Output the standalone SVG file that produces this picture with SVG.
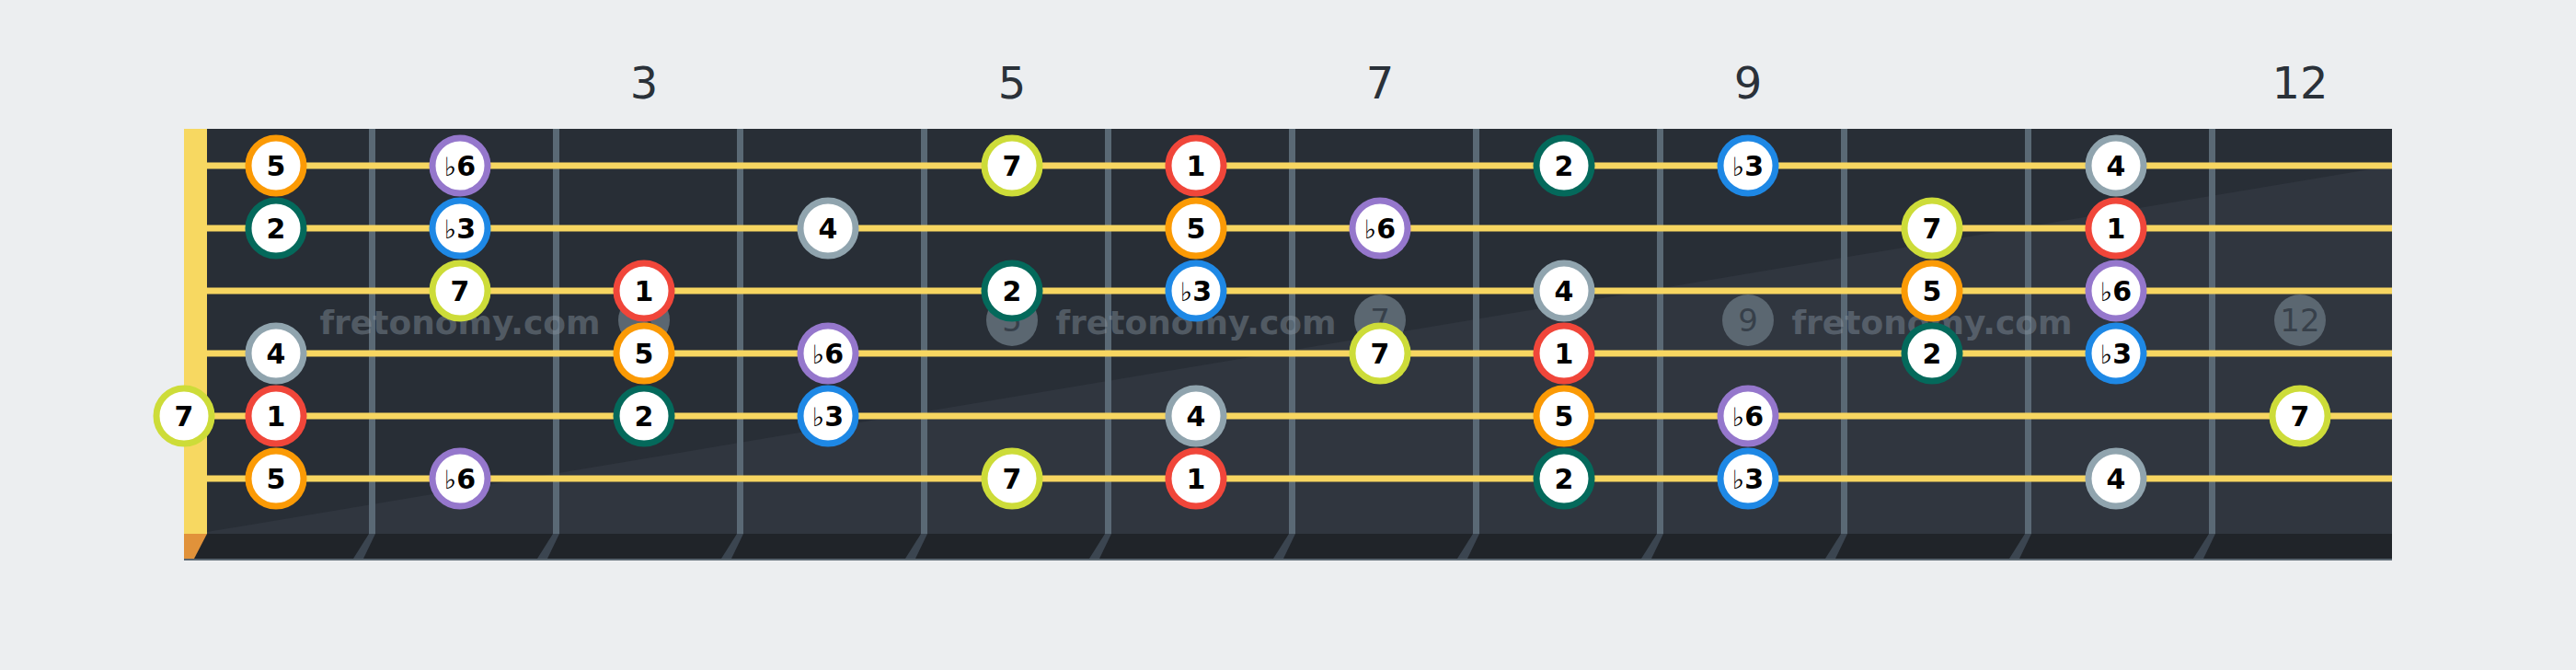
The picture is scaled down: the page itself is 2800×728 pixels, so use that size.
<svg xmlns="http://www.w3.org/2000/svg" width="2800" height="728" viewBox="0 0 2800 728">
<style>
.fret{fill:#5a6975}
.fside{fill:#3b4550}
.str{stroke:#f7d661;stroke-width:7}
.mk{fill:#5b6771}
.mkt{font-family:"DejaVu Sans",sans-serif;font-size:34px;fill:#37404a;text-anchor:middle}
.lbl{font-family:"DejaVu Sans",sans-serif;font-size:48px;fill:#2a3139;text-anchor:middle}
.wm{font-family:"DejaVu Sans",sans-serif;font-weight:bold;font-size:36px;fill:#8a97a3;opacity:0.42;text-anchor:middle}
.n circle{fill:#fff;stroke-width:7}
.n text{font-family:"DejaVu Sans",sans-serif;font-weight:bold;font-size:30px;fill:#000;text-anchor:middle}
.fl{font-weight:normal;font-size:28px}
.i1 circle{stroke:#f0463a}
.i2 circle{stroke:#04695b}
.i3 circle{stroke:#1e88e5}
.i4 circle{stroke:#90a4ae}
.i5 circle{stroke:#fb9a05}
.i6 circle{stroke:#9577cc}
.i7 circle{stroke:#cddc39}
</style>
<rect width="2800" height="728" fill="#eceef0"/>
<g id="labels">
<text class="lbl" x="700" y="107">3</text>
<text class="lbl" x="1100" y="107">5</text>
<text class="lbl" x="1500" y="107">7</text>
<text class="lbl" x="1900" y="107">9</text>
<text class="lbl" x="2500" y="107">12</text>
</g>
<g id="board">
<rect x="200" y="140" width="2400" height="440" fill="#282e36"/>
<polygon points="225,578 2600,180 2600,580 225,580" fill="#30363f"/>
<rect x="200" y="580" width="2400" height="28" fill="#202429"/>
<rect x="200" y="607" width="2400" height="2" fill="#5a6670"/>
<g id="frets">
<rect class="fret" x="401" y="140" width="7" height="440"/>
<rect class="fret" x="601" y="140" width="7" height="440"/>
<rect class="fret" x="801" y="140" width="7" height="440"/>
<rect class="fret" x="1001" y="140" width="7" height="440"/>
<rect class="fret" x="1201" y="140" width="7" height="440"/>
<rect class="fret" x="1401" y="140" width="7" height="440"/>
<rect class="fret" x="1601" y="140" width="7" height="440"/>
<rect class="fret" x="1801" y="140" width="7" height="440"/>
<rect class="fret" x="2001" y="140" width="7" height="440"/>
<rect class="fret" x="2201" y="140" width="7" height="440"/>
<rect class="fret" x="2401" y="140" width="7" height="440"/>
<polygon class="fside" points="401,580 408,580 395,607 384,607"/>
<polygon class="fside" points="601,580 608,580 595,607 584,607"/>
<polygon class="fside" points="801,580 808,580 795,607 784,607"/>
<polygon class="fside" points="1001,580 1008,580 995,607 984,607"/>
<polygon class="fside" points="1201,580 1208,580 1195,607 1184,607"/>
<polygon class="fside" points="1401,580 1408,580 1395,607 1384,607"/>
<polygon class="fside" points="1601,580 1608,580 1595,607 1584,607"/>
<polygon class="fside" points="1801,580 1808,580 1795,607 1784,607"/>
<polygon class="fside" points="2001,580 2008,580 1995,607 1984,607"/>
<polygon class="fside" points="2201,580 2208,580 2195,607 2184,607"/>
<polygon class="fside" points="2401,580 2408,580 2395,607 2384,607"/>
</g>
<g id="markers">
<circle class="mk" cx="700" cy="348" r="28"/><text class="mkt" x="700" y="360">3</text>
<circle class="mk" cx="1100" cy="348" r="28"/><text class="mkt" x="1100" y="360">5</text>
<circle class="mk" cx="1500" cy="348" r="28"/><text class="mkt" x="1500" y="360">7</text>
<circle class="mk" cx="1900" cy="348" r="28"/><text class="mkt" x="1900" y="360">9</text>
<circle class="mk" cx="2500" cy="348" r="28"/><text class="mkt" x="2500" y="360">12</text>
</g>
<g id="watermark">
<text class="wm" x="500" y="363">fretonomy.com</text>
<text class="wm" x="1300" y="363">fretonomy.com</text>
<text class="wm" x="2100" y="363">fretonomy.com</text>
</g>
<g id="strings">
<line class="str" x1="215" y1="180" x2="2600" y2="180"/>
<line class="str" x1="215" y1="248" x2="2600" y2="248"/>
<line class="str" x1="215" y1="316" x2="2600" y2="316"/>
<line class="str" x1="215" y1="384" x2="2600" y2="384"/>
<line class="str" x1="215" y1="452" x2="2600" y2="452"/>
<line class="str" x1="215" y1="520" x2="2600" y2="520"/>
</g>
<rect id="nut" x="200" y="140" width="25" height="440" fill="#f7d861"/>
<polygon points="200,580 225,580 211,607 200,607" fill="#e1923a"/>
</g>
<g id="notes">
<g id="s1f1" class="n i5"><circle cx="300" cy="180" r="30"/><text x="300" y="191">5</text></g>
<g id="s1f2" class="n i6"><circle cx="500" cy="180" r="30"/><text x="500" y="191"><tspan class="fl">♭</tspan>6</text></g>
<g id="s1f5" class="n i7"><circle cx="1100" cy="180" r="30"/><text x="1100" y="191">7</text></g>
<g id="s1f6" class="n i1"><circle cx="1300" cy="180" r="30"/><text x="1300" y="191">1</text></g>
<g id="s1f8" class="n i2"><circle cx="1700" cy="180" r="30"/><text x="1700" y="191">2</text></g>
<g id="s1f9" class="n i3"><circle cx="1900" cy="180" r="30"/><text x="1900" y="191"><tspan class="fl">♭</tspan>3</text></g>
<g id="s1f11" class="n i4"><circle cx="2300" cy="180" r="30"/><text x="2300" y="191">4</text></g>

<g id="s2f1" class="n i2"><circle cx="300" cy="248" r="30"/><text x="300" y="259">2</text></g>
<g id="s2f2" class="n i3"><circle cx="500" cy="248" r="30"/><text x="500" y="259"><tspan class="fl">♭</tspan>3</text></g>
<g id="s2f4" class="n i4"><circle cx="900" cy="248" r="30"/><text x="900" y="259">4</text></g>
<g id="s2f6" class="n i5"><circle cx="1300" cy="248" r="30"/><text x="1300" y="259">5</text></g>
<g id="s2f7" class="n i6"><circle cx="1500" cy="248" r="30"/><text x="1500" y="259"><tspan class="fl">♭</tspan>6</text></g>
<g id="s2f10" class="n i7"><circle cx="2100" cy="248" r="30"/><text x="2100" y="259">7</text></g>
<g id="s2f11" class="n i1"><circle cx="2300" cy="248" r="30"/><text x="2300" y="259">1</text></g>

<g id="s3f2" class="n i7"><circle cx="500" cy="316" r="30"/><text x="500" y="327">7</text></g>
<g id="s3f3" class="n i1"><circle cx="700" cy="316" r="30"/><text x="700" y="327">1</text></g>
<g id="s3f5" class="n i2"><circle cx="1100" cy="316" r="30"/><text x="1100" y="327">2</text></g>
<g id="s3f6" class="n i3"><circle cx="1300" cy="316" r="30"/><text x="1300" y="327"><tspan class="fl">♭</tspan>3</text></g>
<g id="s3f8" class="n i4"><circle cx="1700" cy="316" r="30"/><text x="1700" y="327">4</text></g>
<g id="s3f10" class="n i5"><circle cx="2100" cy="316" r="30"/><text x="2100" y="327">5</text></g>
<g id="s3f11" class="n i6"><circle cx="2300" cy="316" r="30"/><text x="2300" y="327"><tspan class="fl">♭</tspan>6</text></g>

<g id="s4f1" class="n i4"><circle cx="300" cy="384" r="30"/><text x="300" y="395">4</text></g>
<g id="s4f3" class="n i5"><circle cx="700" cy="384" r="30"/><text x="700" y="395">5</text></g>
<g id="s4f4" class="n i6"><circle cx="900" cy="384" r="30"/><text x="900" y="395"><tspan class="fl">♭</tspan>6</text></g>
<g id="s4f7" class="n i7"><circle cx="1500" cy="384" r="30"/><text x="1500" y="395">7</text></g>
<g id="s4f8" class="n i1"><circle cx="1700" cy="384" r="30"/><text x="1700" y="395">1</text></g>
<g id="s4f10" class="n i2"><circle cx="2100" cy="384" r="30"/><text x="2100" y="395">2</text></g>
<g id="s4f11" class="n i3"><circle cx="2300" cy="384" r="30"/><text x="2300" y="395"><tspan class="fl">♭</tspan>3</text></g>

<g id="s5f0" class="n i7"><circle cx="200" cy="452" r="30"/><text x="200" y="463">7</text></g>
<g id="s5f1" class="n i1"><circle cx="300" cy="452" r="30"/><text x="300" y="463">1</text></g>
<g id="s5f3" class="n i2"><circle cx="700" cy="452" r="30"/><text x="700" y="463">2</text></g>
<g id="s5f4" class="n i3"><circle cx="900" cy="452" r="30"/><text x="900" y="463"><tspan class="fl">♭</tspan>3</text></g>
<g id="s5f6" class="n i4"><circle cx="1300" cy="452" r="30"/><text x="1300" y="463">4</text></g>
<g id="s5f8" class="n i5"><circle cx="1700" cy="452" r="30"/><text x="1700" y="463">5</text></g>
<g id="s5f9" class="n i6"><circle cx="1900" cy="452" r="30"/><text x="1900" y="463"><tspan class="fl">♭</tspan>6</text></g>
<g id="s5f12" class="n i7"><circle cx="2500" cy="452" r="30"/><text x="2500" y="463">7</text></g>

<g id="s6f1" class="n i5"><circle cx="300" cy="520" r="30"/><text x="300" y="531">5</text></g>
<g id="s6f2" class="n i6"><circle cx="500" cy="520" r="30"/><text x="500" y="531"><tspan class="fl">♭</tspan>6</text></g>
<g id="s6f5" class="n i7"><circle cx="1100" cy="520" r="30"/><text x="1100" y="531">7</text></g>
<g id="s6f6" class="n i1"><circle cx="1300" cy="520" r="30"/><text x="1300" y="531">1</text></g>
<g id="s6f8" class="n i2"><circle cx="1700" cy="520" r="30"/><text x="1700" y="531">2</text></g>
<g id="s6f9" class="n i3"><circle cx="1900" cy="520" r="30"/><text x="1900" y="531"><tspan class="fl">♭</tspan>3</text></g>
<g id="s6f11" class="n i4"><circle cx="2300" cy="520" r="30"/><text x="2300" y="531">4</text></g>
</g>
</svg>
